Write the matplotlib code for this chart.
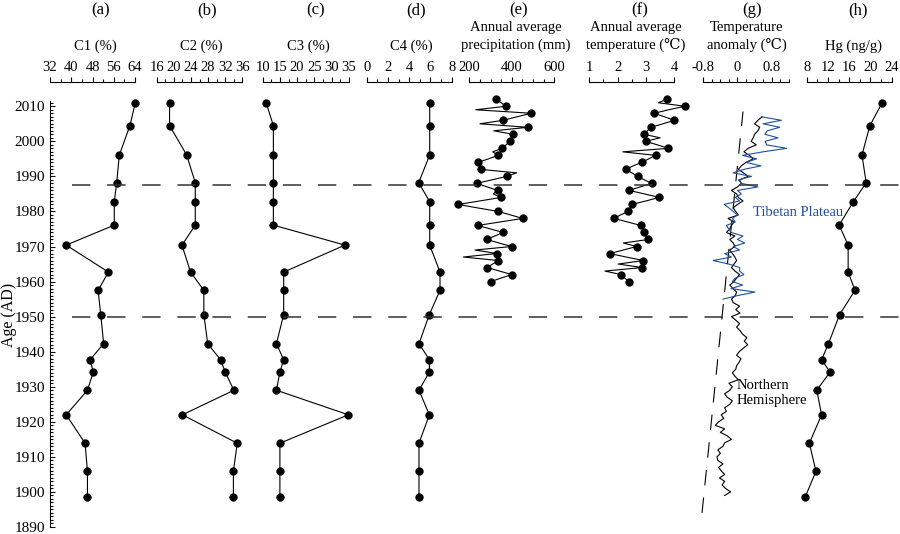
"""
Sediment core profiles vs age: C1-C4 fractions, climate records, Hg.
"""
import numpy as np
import matplotlib
matplotlib.use("Agg")
import matplotlib.pyplot as plt
import matplotlib.transforms as mtrans
from matplotlib.ticker import MultipleLocator, FuncFormatter

plt.rcParams['font.family'] = ['Liberation Serif', 'DejaVu Serif', 'Noto Sans CJK SC']
plt.rcParams['axes.unicode_minus'] = False

# ---------------------------------------------------------------- data
age = [2011.0, 2004.5, 1996.1, 1988.2, 1982.8, 1976.1, 1970.4, 1962.7, 1957.5,
       1950.6, 1942.3, 1937.7, 1934.2, 1929.0, 1922.0, 1913.9, 1905.9, 1898.5]
c1 = [64.1, 62.1, 58.1, 57.1, 56.2, 56.2, 38.1, 54.0, 50.1,
      51.1, 52.2, 47.1, 48.3, 46.1, 38.1, 45.2, 46.1, 46.1]
c2 = [19.0, 19.0, 23.0, 25.0, 25.0, 25.0, 21.9, 23.9, 27.0,
      27.0, 27.9, 30.9, 32.0, 34.0, 22.0, 34.8, 33.9, 33.9]
c3 = [11.0, 13.1, 13.1, 13.1, 13.1, 13.1, 33.9, 16.1, 16.1,
      16.1, 14.0, 16.1, 15.0, 14.0, 34.9, 15.0, 15.0, 15.0]
c4 = [5.93, 5.93, 5.93, 4.89, 5.93, 5.93, 5.93, 6.9, 6.9,
      5.9, 4.92, 5.9, 5.9, 4.92, 5.9, 4.92, 4.92, 4.92]
hg = [22.2, 19.9, 18.4, 19.2, 16.8, 14.1, 15.8, 15.8, 17.1,
      14.2, 12.1, 10.8, 12.4, 9.9, 10.8, 8.5, 9.75, 7.7]

# annual station records 1960-2012
met_years = list(range(1960, 2013))
precip = [300.7, 350, 399.5, 342, 284.7, 310, 336.5, 172, 329, 227,
          399.5, 340, 282, 320, 360, 300, 239.5, 345, 451, 395,
          336.5, 240, 148, 250, 349, 313, 333.6, 284, 234.8, 305,
          376, 423, 253.6, 248, 242, 290, 336.5, 310, 355, 373,
          391.5, 400, 407, 315, 474.8, 250, 360, 425, 491.8, 230,
          372.7, 350, 325.6]
temp = [2.40, 2.25, 2.12, 1.55, 2.87, 2.02, 2.91, 2.30, 1.73, 2.20,
        2.67, 2.20, 3.08, 3.00, 2.93, 2.88, 2.82, 2.35, 1.88, 2.10,
        2.38, 2.44, 2.50, 3.00, 3.47, 2.95, 2.40, 2.80, 3.20, 2.95,
        2.71, 2.50, 2.28, 2.55, 2.85, 3.10, 3.34, 2.18, 3.79, 3.40,
        2.99, 3.50, 2.94, 3.05, 3.18, 3.60, 4.00, 3.65, 3.29, 3.80,
        4.38, 3.44, 3.73]

# temperature anomaly records
nh_years = list(range(1899, 2008))
nh_anom = [-0.30, -0.16, -0.28, -0.36, -0.30, -0.42, -0.30, -0.38, -0.44, -0.34,
           -0.46, -0.48, -0.40, -0.46, -0.34, -0.30, -0.14, -0.24, -0.40, -0.30,
           -0.52, -0.44, -0.32, -0.38, -0.26, -0.30, -0.18, -0.12, -0.24, -0.30,
           -0.18, -0.12, -0.20, 0.02, -0.06, -0.12, -0.04, -0.02, 0.04, 0.08,
           -0.02, 0.04, 0.14, 0.24, 0.16, 0.22, 0.12, 0.06, -0.02, 0.05,
           -0.04, -0.14, 0.06, -0.04, 0.05, -0.10, -0.14, -0.05, -0.02, -0.10,
           -0.18, -0.08, -0.02, 0.05, -0.06, -0.14, -0.08, -0.02, -0.06, -0.12,
           -0.18, -0.06, -0.10, -0.18, -0.06, -0.26, -0.18, -0.14, -0.08, -0.22,
           0.02, -0.04, -0.10, 0.00, 0.13, 0.02, -0.02, -0.14, 0.00, 0.09,
           0.05, 0.25, 0.14, 0.02, 0.09, 0.20, 0.37, 0.28, 0.15, 0.25,
           0.44, 0.32, 0.37, 0.40, 0.48, 0.52, 0.40, 0.48, 0.58]
tp_years = list(range(1955, 2008))
tp_anom = [-0.34, 0.00, 0.41, -0.15, 0.12, -0.12, -0.05, 0.15, 0.05, 0.05,
           -0.20, -0.57, -0.14, -0.30, 0.05, -0.10, 0.17, 0.00, 0.13, -0.15,
           -0.20, -0.26, -0.05, -0.12, 0.00, -0.10, -0.20, -0.31, 0.05, -0.05,
           0.09, 0.00, 0.48, 0.10, 0.02, 0.33, -0.10, 0.15, 0.55, 0.20,
           0.45, 0.12, 0.60, 1.15, 0.68, 0.65, 0.95, 0.64, 0.70, 0.99,
           0.60, 1.03, 0.56]
trend_years = [1894.0, 2008.5]
trend_anom = [-0.83, 0.13]

breaks = [1987.5, 1950.0]

letters = ['(a)', '(b)', '(c)', '(d)', '(e)', '(f)', '(g)', '(h)']
titles = ['C1 (%)', 'C2 (%)', 'C3 (%)', 'C4 (%)',
          'Annual average\nprecipitation (mm)', 'Annual average\ntemperature (\u2103)',
          'Temperature\nanomaly (\u2103)', 'Hg (ng/g)']

# ---------------------------------------------------------------- layout (px)
W, H = 900, 534
lefts = [50, 156.7, 262.7, 366.7, 469.3, 589.3, 703.3, 806.7]
widths = [85, 85.7, 86, 85, 85, 85, 85.4, 85]
letter_x = [101, 207.5, 315.5, 416, 518.3, 639.2, 752.5, 857.8]
title_x = [95.3, 201.7, 308.3, 411.3, 515.8, 635.6, 746.7, 853.3]
xlims = [(32, 64), (16, 36), (10, 35), (0, 8), (200, 600), (1, 4), (-0.8, 1.2), (8, 24)]
steps = [(8, 4), (4, 2), (5, 2.5), (2, 1), (200, 50), (1, 0.5), (0.8, 0.2), (4, 2)]
y_bot, y_top = 527.0, 101.0
BLUE = '#1f4e9e'

fig = plt.figure(figsize=(W / 100, H / 100), dpi=100)
axes = []
for i, (l, w) in enumerate(zip(lefts, widths)):
    ax = fig.add_axes([l / W, 1 - y_bot / H, w / W, (y_bot - y_top) / H],
                      sharey=axes[0] if axes else None)
    ax.patch.set_visible(False)
    for s in ['bottom', 'right']:
        ax.spines[s].set_visible(False)
    ax.spines['left'].set_visible(i == 0)
    ax.spines['top'].set_position(('outward', 13.5))
    for s in ax.spines.values():
        s.set_linewidth(0.8)
    ax.set_xlim(*xlims[i])
    ax.xaxis.tick_top()
    ax.xaxis.set_major_locator(MultipleLocator(steps[i][0]))
    ax.xaxis.set_minor_locator(MultipleLocator(steps[i][1]))
    ax.xaxis.set_major_formatter(FuncFormatter(lambda v, p: f"{round(v, 6):g}"))
    ax.tick_params(axis='x', which='both', direction='out', top=True, bottom=False,
                   labelsize=10.5, pad=2.5, width=0.8)
    ax.tick_params(axis='x', which='major', length=3.5)
    ax.tick_params(axis='x', which='minor', length=2.5)
    if i > 0:
        ax.tick_params(axis='y', which='both', left=False, labelleft=False)
    axes.append(ax)
    fig.text(letter_x[i] / W, 1 - 10 / H, letters[i], ha='center', va='center', fontsize=12)
    if '\n' in titles[i]:
        fig.text(title_x[i] / W, 1 - 36.5 / H, titles[i], ha='center', va='center',
                 fontsize=10.5, linespacing=1.35)
    else:
        fig.text(title_x[i] / W, 1 - 46 / H, titles[i], ha='center', va='center', fontsize=10.5)

ax0 = axes[0]
ax0.set_ylim(1890, 2011.5)
ax0.yaxis.set_major_locator(MultipleLocator(10))
ax0.yaxis.set_minor_locator(MultipleLocator(1))
ax0.tick_params(axis='y', which='both', direction='in', labelsize=11, pad=3.5, width=0.8)
ax0.tick_params(axis='y', which='major', length=3.5)
ax0.tick_params(axis='y', which='minor', length=2)
fig.text(9 / W, 1 - 315 / H, 'Age (AD)', rotation=90, ha='center', va='center', fontsize=11.5)

pk = dict(color='k', lw=0.8, marker='o', ms=5, clip_on=False)
for ax, vals in zip([axes[0], axes[1], axes[2], axes[3], axes[7]], [c1, c2, c3, c4, hg]):
    ax.plot(vals, age, **pk)

axes[4].plot(precip, met_years, markevery=2, **pk)
axes[5].plot(temp, met_years, markevery=2, **pk)

axg = axes[6]
axg.plot(trend_anom, trend_years, color='k', lw=0.8, ls=(0, (14, 11)), clip_on=False)
axg.plot(nh_anom, nh_years, color='k', lw=0.8, clip_on=False)
axg.plot(tp_anom, tp_years, color=BLUE, lw=0.8, clip_on=False)
axg.text(0.36, 1979.6, 'Tibetan Plateau', color=BLUE, fontsize=10.5, ha='left', va='center')
axg.text(-0.02, 1928.3, 'Northern\nHemisphere', color='k', fontsize=10.5, ha='left',
         va='center', linespacing=1.2)

# horizontal break lines across all panels
tr = mtrans.blended_transform_factory(fig.transFigure, ax0.transData)
for b in breaks:
    fig.add_artist(plt.Line2D([72 / W, 1.0], [b, b], transform=tr, color='#333333',
                              lw=1.1, ls=(0, (12, 11))))

fig.savefig("out.png", dpi=100)
